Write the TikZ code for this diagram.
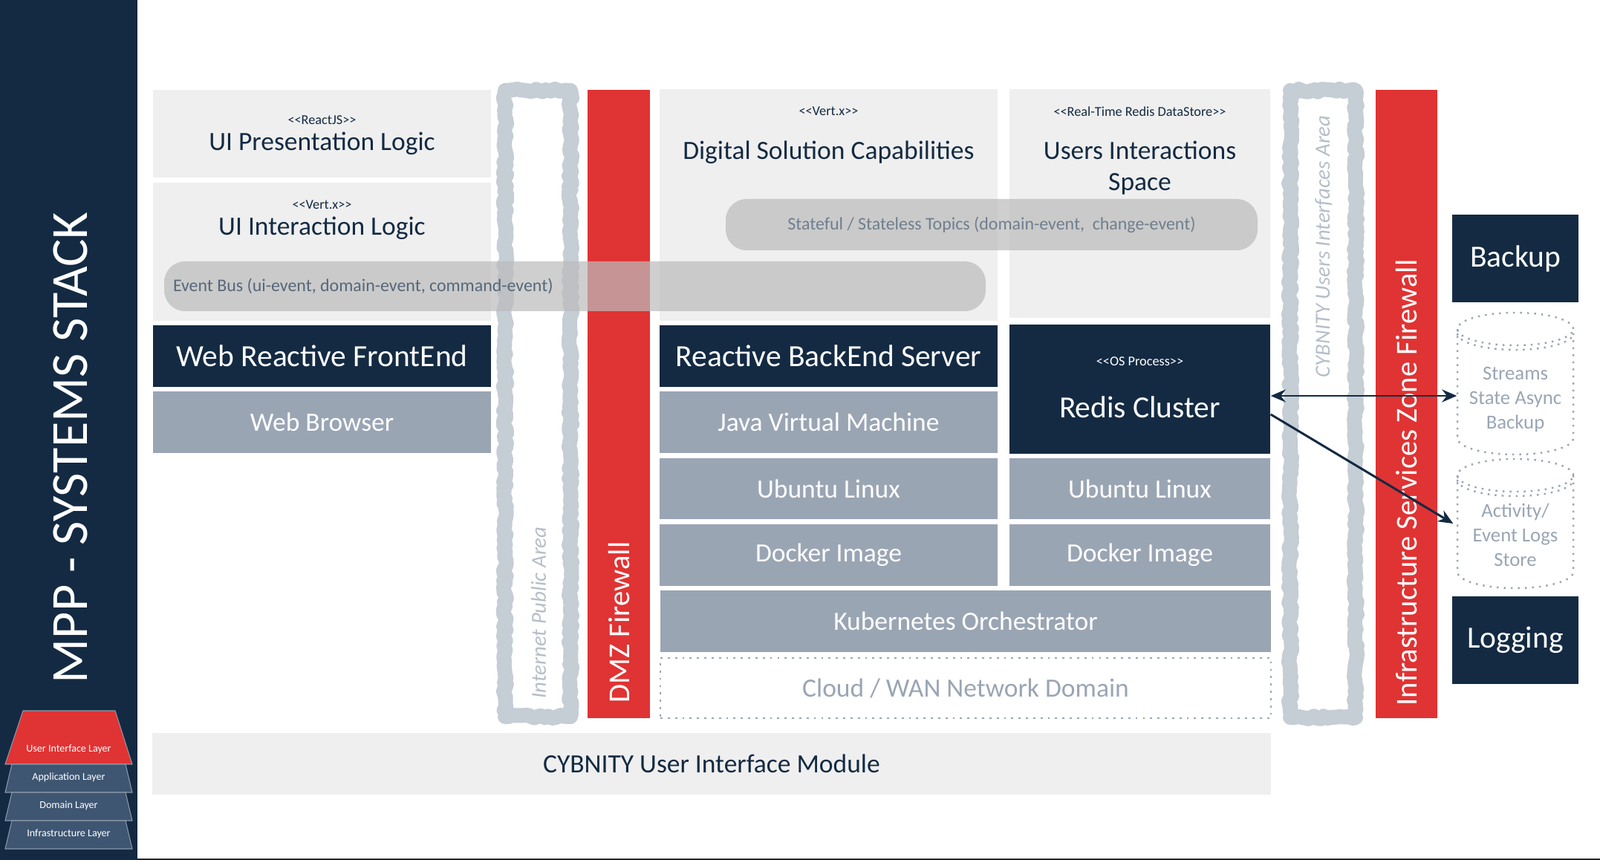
\documentclass[tikz,border=0pt]{standalone}
\usepackage{fontspec}
\setmainfont{Carlito}[Ligatures=TeXOff]
\usetikzlibrary{arrows.meta,positioning,decorations.pathmorphing}

\definecolor{navy}{RGB}{19,42,66}
\definecolor{fwred}{RGB}{224,51,51}
\definecolor{lightbg}{RGB}{239,239,239}
\definecolor{slate}{RGB}{154,165,180}
\definecolor{zonegray}{RGB}{197,205,213}
\definecolor{zonetext}{RGB}{181,190,200}
\definecolor{busgray}{RGB}{188,188,188}
\definecolor{bustext}{RGB}{86,103,122}
\definecolor{layerslate}{RGB}{62,86,114}
\definecolor{layerline}{RGB}{140,153,168}

\begin{document}
\begin{tikzpicture}[
    >={Stealth[length=2mm,width=1.7mm]},
    lightbox/.style={fill=lightbg, inner sep=0pt},
    darkbox/.style={fill=navy, text=white, inner sep=0pt, font=\fontsize{11.8}{14}\selectfont},
    slatebox/.style={fill=slate, text=white, inner sep=0pt, font=\fontsize{10.1}{12}\selectfont},
    heading/.style={text=navy, align=center, inner sep=0pt, font=\fontsize{10.1}{12}\selectfont},
    stereo/.style={text=navy, inner sep=0pt, font=\fontsize{5.2}{6}\selectfont},
    busbar/.style={fill=busgray, fill opacity=0.71, text opacity=1, rounded corners=0.28cm, inner sep=0pt, text=bustext, font=\fontsize{6.8}{8}\selectfont},
    firewall/.style={fill=fwred, inner sep=0pt},
    fwlabel/.style={text=white, rotate=90, anchor=west, inner sep=0pt, font=\fontsize{11.6}{14}\selectfont},
    zone/.style={draw=zonegray, line width=0.2cm, line join=round, decorate, decoration={random steps, segment length=0.5mm, amplitude=0.22mm}},
    zonelabel/.style={text=zonetext, rotate=90, anchor=west, inner sep=0pt, font=\fontsize{8.2}{10}\selectfont\itshape},
    store/.style={draw=slate, dotted, line width=0.7pt},
    storelabel/.style={text=slate, align=center, minimum width=1.56cm, inner sep=0pt, font=\fontsize{7.6}{9.4}\selectfont},
    layer/.style={fill=layerslate, draw=layerline, line width=0.3pt},
    layerlabel/.style={text=white, inner sep=0pt, font=\fontsize{4}{5}\selectfont},
    link/.style={draw=navy, line width=0.85pt},
]
\useasboundingbox (0,0) rectangle (21.54,-11.58);
\draw[line width=0.4pt, black!85] (0,-11.57) -- (21.54,-11.57);

% stack panel
\node[fill=navy, minimum width=1.85cm, minimum height=11.58cm, inner sep=0pt] (stack) at (0.925,-5.79) {};
\node[text=white, rotate=90, inner sep=0pt, font=\fontsize{20}{24}\selectfont] (title) at (0.95,-6.03) {MPP - SYSTEMS STACK};

\filldraw[fill=fwred, draw=layerline, line width=0.3pt] (0.07,-10.29) -- (0.31,-9.57) -- (1.55,-9.57) -- (1.78,-10.29) -- cycle;
\node[layerlabel] (uilayer) at (0.925,-10.09) {User Interface Layer};
\foreach \lname/\ltext [count=\i] in {applayer/Application Layer, domlayer/Domain Layer, infralayer/Infrastructure Layer} {
  \draw[layer] (0.07,{-10.29-0.38*\i}) -- (0.16,{-10.29-0.38*(\i-1)}) -- (1.69,{-10.29-0.38*(\i-1)}) -- (1.78,{-10.29-0.38*\i}) -- cycle;
  \node[layerlabel] (\lname) at (0.925,{-10.29-0.38*\i+0.2}) {\ltext};
}

% front end column
\node[lightbox, minimum width=4.55cm, minimum height=1.18cm] (pres) at (4.335,-1.80) {};
\node[stereo] (presst) at (4.335,-1.62) {<<ReactJS>>};
\node[heading] (prestx) at (4.335,-1.93) {UI Presentation Logic};
\node[lightbox, minimum width=4.55cm, minimum height=1.86cm] (inter) at (4.335,-3.39) {};
\node[stereo] (interst) at (4.335,-2.76) {<<Vert.x>>};
\node[heading] (intertx) at (4.335,-3.07) {UI Interaction Logic};
\node[darkbox, minimum width=4.55cm, minimum height=0.83cm] (front) at (4.335,-4.795) {Web Reactive FrontEnd};
\node[slatebox, minimum width=4.55cm, minimum height=0.83cm] (browser) at (4.335,-5.685) {Web Browser};

% back end column
\node[lightbox, minimum width=4.55cm, minimum height=3.12cm] (caps) at (11.155,-2.76) {};
\node[stereo] (capsst) at (11.155,-1.50) {<<Vert.x>>};
\node[heading] (capstx) at (11.155,-2.05) {Digital Solution Capabilities};
\node[darkbox, minimum width=4.55cm, minimum height=0.83cm] (backend) at (11.155,-4.795) {Reactive BackEnd Server};
\node[slatebox, minimum width=4.55cm, minimum height=0.83cm] (jvm) at (11.155,-5.685) {Java Virtual Machine};
\node[slatebox, minimum width=4.55cm, minimum height=0.82cm] (ubuntuA) at (11.155,-6.58) {Ubuntu Linux};
\node[slatebox, minimum width=4.55cm, minimum height=0.83cm] (dockerA) at (11.155,-7.475) {Docker Image};

% redis column
\node[lightbox, minimum width=3.51cm, minimum height=3.08cm] (uis) at (15.345,-2.74) {};
\node[stereo] (uisst) at (15.345,-1.50) {<<Real-Time Redis DataStore>>};
\node[heading] (uistx) at (15.345,-2.26) {Users Interactions\\Space};
\node[darkbox, minimum width=3.51cm, minimum height=1.74cm] (redis) at (15.345,-5.24) {};
\node[stereo, text=white] (redisst) at (15.345,-4.87) {<<OS Process>>};
\node[darkbox, fill=none] (redistx) at (15.345,-5.48) {Redis Cluster};
\node[slatebox, minimum width=3.51cm, minimum height=0.82cm] (ubuntuB) at (15.345,-6.58) {Ubuntu Linux};
\node[slatebox, minimum width=3.51cm, minimum height=0.83cm] (dockerB) at (15.345,-7.475) {Docker Image};

\node[slatebox, minimum width=8.22cm, minimum height=0.83cm] (kube) at (13.0,-8.365) {Kubernetes Orchestrator};
\node[draw=slate, dotted, line width=0.8pt, text=slate, inner sep=0pt, minimum width=8.22cm, minimum height=0.81cm, font=\fontsize{10.1}{12}\selectfont] (cloud) at (13.0,-9.265) {Cloud / WAN Network Domain};
\node[lightbox, text=navy, minimum width=15.06cm, minimum height=0.83cm, font=\fontsize{10.1}{12}\selectfont] (module) at (9.58,-10.285) {CYBNITY User Interface Module};

% zones and firewalls
\draw[zone] (6.80,-1.22) rectangle (7.68,-9.65);
\node[zonelabel] (publicarea) at (7.25,-9.41) {Internet Public Area};
\node[firewall, minimum width=0.84cm, minimum height=8.46cm] (dmz) at (8.33,-5.44) {};
\node[fwlabel] (dmztx) at (8.33,-9.47) {DMZ Firewall};

\draw[zone] (17.37,-1.22) rectangle (18.25,-9.66);
\node[zonelabel] (usersarea) at (17.82,-5.09) {CYBNITY Users Interfaces Area};
\node[firewall, minimum width=0.83cm, minimum height=8.46cm] (infrafw) at (18.935,-5.44) {};
\node[fwlabel] (infrafwtx) at (18.935,-9.51) {Infrastructure Services Zone Firewall};

% event buses
\node[busbar, minimum width=11.06cm, minimum height=0.67cm] (eventbus) at (7.74,-3.855) {};
\node[text=bustext, inner sep=0pt, anchor=west, font=\fontsize{6.8}{8}\selectfont, right=0.12cm of eventbus.west] (eventbustx) {Event Bus (ui-event, domain-event, command-event)};
\node[busbar, text=bustext!85, minimum width=7.16cm, minimum height=0.69cm] (topics) at (13.35,-3.025) {Stateful / Stateless Topics (domain-event,\ \ change-event)};

% infrastructure services
\node[darkbox, minimum width=1.70cm, minimum height=1.18cm] (backup) at (20.40,-3.48) {Backup};
\node[darkbox, minimum width=1.70cm, minimum height=1.18cm] (logging) at (20.40,-8.62) {Logging};

\node[storelabel] (streams) at (20.40,-5.38) {Streams\\State Async\\Backup};
\draw[store] ([shift={(-0.78,0.95)}]streams.center) -- ([shift={(-0.78,-0.52)}]streams.center) arc[start angle=180, end angle=360, x radius=0.78cm, y radius=0.22cm] -- ([shift={(0.78,0.95)}]streams.center);
\draw[store] ([shift={(0,0.95)}]streams.center) ellipse[x radius=0.78cm, y radius=0.22cm];
\draw[store] ([shift={(-0.78,0.89)}]streams.center) arc[start angle=180, end angle=360, x radius=0.78cm, y radius=0.22cm];

\node[storelabel] (activity) at (20.40,-7.20) {Activity/\\Event Logs\\Store};
\draw[store] ([shift={(-0.78,0.80)}]activity.center) -- ([shift={(-0.78,-0.50)}]activity.center) arc[start angle=180, end angle=360, x radius=0.78cm, y radius=0.22cm] -- ([shift={(0.78,0.80)}]activity.center);
\draw[store] ([shift={(0,0.80)}]activity.center) ellipse[x radius=0.78cm, y radius=0.22cm];
\draw[store] ([shift={(-0.78,0.74)}]activity.center) arc[start angle=180, end angle=360, x radius=0.78cm, y radius=0.22cm];

\coordinate (backupin) at ([yshift=0.05cm]streams.west);
\coordinate (logsin) at ([shift={(-0.05,0.15)}]activity.west);
\draw[link, <->] (redis.east |- backupin) -- (backupin);
\draw[link, ->] ([yshift=-0.34cm]redis.east) -- (logsin);

\end{tikzpicture}
\end{document}
